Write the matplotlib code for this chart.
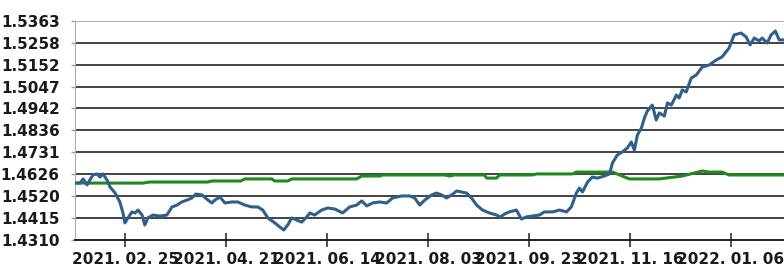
import matplotlib.pyplot as plt

# Trading-day index and value for the blue series
blue_day = [0.0, 1.8, 2.9, 4.3, 5.3, 6.4, 7.8, 8.9, 10.0, 11.4, 12.5, 14.3, 16.0, 17.1, 17.8,
            18.9, 20.3, 21.4, 22.5, 23.9, 24.9, 26.0, 27.8, 30.3, 32.8, 34.6, 36.4, 38.1,
            39.9, 41.7, 43.1, 45.3, 47.0, 48.8, 49.9, 51.7, 53.5, 56.0, 58.1, 60.6, 63.1,
            65.2, 67.0, 68.8, 71.3, 73.1, 74.5, 75.9, 77.3, 79.1, 80.9, 82.7, 83.8, 85.5,
            88.0, 90.2, 92.7, 95.5, 98.0, 100.5, 102.3, 104.1, 106.2, 108.7, 111.2, 113.3,
            116.6, 119.4, 121.2, 123.0, 124.8, 127.3, 129.0, 130.8, 132.6, 134.4, 136.2,
            137.9, 139.7, 141.5, 143.3, 145.4, 147.9, 150.4, 151.8, 153.3, 155.0, 157.5,
            159.3, 161.1, 163.2, 165.7, 167.5, 170.4, 172.9, 175.4, 177.1, 178.9, 180.0,
            181.1, 182.9, 184.6, 186.4, 188.9, 190.7, 191.8, 193.5, 195.3, 197.1, 198.5,
            199.6, 200.7, 202.1, 203.2, 204.2, 206.0, 207.4, 208.5, 210.3, 211.4, 212.8,
            214.6, 215.6, 216.7, 218.1, 219.9, 221.7, 223.8, 226.3, 228.8, 230.9, 233.4,
            235.2, 237.7, 239.5, 240.9, 242.4, 244.1, 245.2, 247.0, 248.4, 249.9, 251.3, 252.7]
blue_val = [1.4582, 1.4582, 1.4602, 1.4573, 1.4597, 1.4621, 1.4626, 1.4611, 1.4626, 1.4597,
            1.4563, 1.4534, 1.4491, 1.4438, 1.4390, 1.4414, 1.4443, 1.4438, 1.4452, 1.4428,
            1.4380, 1.4414, 1.4428, 1.4423, 1.4428, 1.4467, 1.4476, 1.4491, 1.4500, 1.4510,
            1.4529, 1.4525, 1.4505, 1.4486, 1.4500, 1.4515, 1.4486, 1.4491, 1.4491, 1.4476,
            1.4467, 1.4467, 1.4452, 1.4414, 1.4390, 1.4370, 1.4356, 1.4380, 1.4414, 1.4404,
            1.4394, 1.4419, 1.4438, 1.4428, 1.4452, 1.4462, 1.4457, 1.4438, 1.4467, 1.4476,
            1.4496, 1.4472, 1.4486, 1.4491, 1.4486, 1.4510, 1.4520, 1.4520, 1.4510, 1.4476,
            1.4500, 1.4525, 1.4534, 1.4525, 1.4510, 1.4525, 1.4544, 1.4539, 1.4534, 1.4510,
            1.4476, 1.4452, 1.4438, 1.4428, 1.4419, 1.4433, 1.4443, 1.4452, 1.4409, 1.4419,
            1.4423, 1.4428, 1.4443, 1.4443, 1.4452, 1.4443, 1.4467, 1.4534, 1.4558, 1.4539,
            1.4587, 1.4611, 1.4606, 1.4616, 1.4626, 1.4679, 1.4717, 1.4732, 1.4751, 1.4780,
            1.4741, 1.4814, 1.4847, 1.4896, 1.4929, 1.4958, 1.4886, 1.4920, 1.4905, 1.4968,
            1.4958, 1.5006, 1.4992, 1.5031, 1.5021, 1.5088, 1.5103, 1.5141, 1.5151, 1.5175,
            1.5190, 1.5233, 1.5296, 1.5305, 1.5286, 1.5248, 1.5281, 1.5267, 1.5281, 1.5257,
            1.5296, 1.5315, 1.5272, 1.5272]

# Green series
green_day = [0.0, 24.2, 26.7, 47.4, 48.8, 59.2, 60.6, 70.2, 71.3, 75.9, 77.3, 100.5, 102.3,
             108.7, 109.8, 131.9, 133.7, 135.4, 146.1, 146.9, 150.4, 151.5, 163.2, 164.7,
             177.5, 178.9, 191.8, 194.3, 197.8, 208.5, 216.7, 223.8, 226.3, 230.9, 233.4, 252.7]
green_val = [1.4582, 1.4582, 1.4587, 1.4587, 1.4592, 1.4592, 1.4602, 1.4602, 1.4592, 1.4592,
             1.4602, 1.4602, 1.4616, 1.4616, 1.4621, 1.4621, 1.4616, 1.4621, 1.4621, 1.4606,
             1.4606, 1.4621, 1.4621, 1.4626, 1.4626, 1.4635, 1.4635, 1.4621, 1.4602, 1.4602,
             1.4616, 1.4640, 1.4635, 1.4635, 1.4621, 1.4621]

y_ticks = [1.4310, 1.4415, 1.4520, 1.4626, 1.4731, 1.4836, 1.4942, 1.5047, 1.5152, 1.5258, 1.5363]
x_tick_days = [18, 54, 90, 126, 162, 198, 234]
x_tick_labels = ['2021. 02. 25', '2021. 04. 21', '2021. 06. 14', '2021. 08. 03',
                 '2021. 09. 23', '2021. 11. 16', '2022. 01. 06']

fig = plt.figure(figsize=(7.84, 2.68), dpi=100)
ax = fig.add_axes([0.0957, 0.1063, 0.9043, 0.8153])

# Gridlines
for v in y_ticks[1:-1]:
    ax.axhline(v, color='#222222', lw=1.2, zorder=1)
ax.axhline(y_ticks[-1], color='#a0a0a0', lw=1.2, zorder=1)

ax.plot(green_day, green_val, color='#1e8a1e', lw=2.2, zorder=2)
ax.plot(blue_day, blue_val, color='#2f5f8c', lw=2.2, zorder=3)

ax.set_xlim(0, 253)
ax.set_ylim(y_ticks[0], y_ticks[-1])

ax.set_yticks(y_ticks)
ax.set_yticklabels([f'{v:.4f}' for v in y_ticks])
ax.set_xticks(x_tick_days)
ax.set_xticklabels(x_tick_labels)

ax.tick_params(axis='y', length=3, width=1, color='#a0a0a0', pad=8,
               labelsize=11, labelcolor='#1a1a1a')
ax.tick_params(axis='x', direction='inout', length=10, width=1.2, color='#333333', pad=4,
               labelsize=11, labelcolor='#1a1a1a')
for lab in ax.get_xticklabels() + ax.get_yticklabels():
    lab.set_fontweight('bold')
    lab.set_fontfamily('DejaVu Sans')

ax.spines['top'].set_visible(False)
ax.spines['right'].set_visible(False)
ax.spines['left'].set_color('#b0b0b0')
ax.spines['bottom'].set_color('#111111')
ax.spines['bottom'].set_linewidth(1.3)

fig.savefig('out.png', dpi=100)
